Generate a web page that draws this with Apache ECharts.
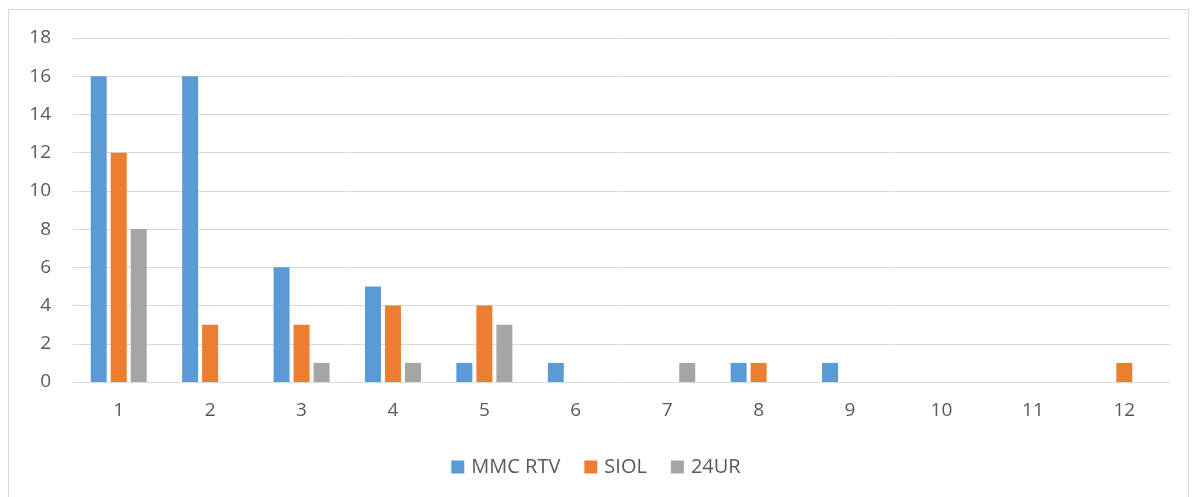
<!DOCTYPE html>
<html><head><meta charset="utf-8">
<script src="https://cdn.jsdelivr.net/npm/echarts@6/dist/echarts.min.js"></script>
<style>
html,body{margin:0;padding:0;background:#fff;overflow:hidden;}
#frame{position:absolute;left:8px;top:9px;width:1181px;height:500px;border:1px solid #d9d9d9;box-sizing:border-box;}
#chart{position:absolute;left:0;top:0;width:1192px;height:497px;}
</style></head>
<body>
<div id="frame"></div>
<div id="chart"></div>
<script>
const categories = ['1','2','3','4','5','6','7','8','9','10','11','12'];
const mmcRtv = [16,16,6,5,1,1,0,1,1,0,0,0];
const siol = [12,3,3,4,4,0,0,1,0,0,0,1];
const ur24 = [8,0,1,1,3,0,1,0,0,0,0,0];
const seriesNames = ['MMC RTV','SIOL','24UR'];
const colors = ['#5B9BD5','#ED7D31','#A5A5A5'];

const chart = echarts.init(document.getElementById('chart'), null, {renderer:'canvas'});
const font = 'Open Sans';
const mk = (name, data, i) => ({
  name, type:'bar', data, barWidth:16, barGap:'25%',
  itemStyle:{color:colors[i]},
  emphasis:{disabled:true}
});
chart.setOption({
  animation:false,
  color:colors,
  grid:{left:73, right:22, top:38, bottom:115, containLabel:false},
  legend:{top:452, left:'center', itemWidth:13, itemHeight:13, itemGap:24,
    icon:'rect',
    textStyle:{fontFamily:font, fontSize:20, color:'#595959', padding:[0,0,0,2]},
    data:seriesNames},
  xAxis:{type:'category', data:categories,
    axisLine:{lineStyle:{color:'#d9d9d9', width:1}},
    axisTick:{show:false},
    axisLabel:{fontFamily:font, fontSize:19, color:'#595959', margin:19}},
  yAxis:{type:'value', min:0, max:18, interval:2,
    axisLine:{show:false}, axisTick:{show:false},
    splitLine:{lineStyle:{color:'#d9d9d9', width:1}},
    axisLabel:{fontFamily:font, fontSize:19, color:'#595959', margin:22}},
  series:[mk(seriesNames[0], mmcRtv, 0), mk(seriesNames[1], siol, 1), mk(seriesNames[2], ur24, 2)]
});
</script>
</body></html>
